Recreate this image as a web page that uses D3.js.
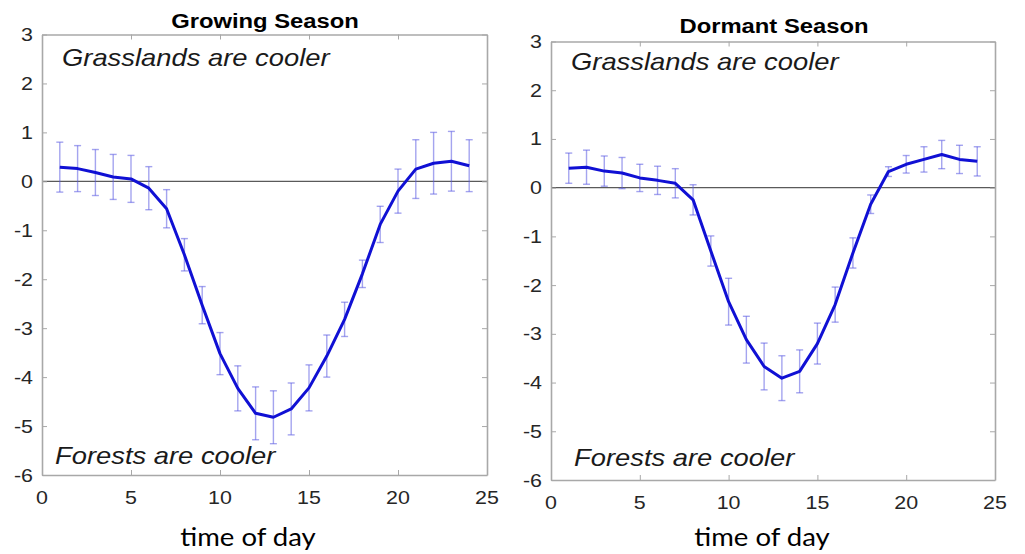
<!DOCTYPE html>
<html><head><meta charset="utf-8">
<script src="https://cdn.jsdelivr.net/npm/d3@7"></script>
<style>html,body{margin:0;padding:0;background:#fff;}svg{display:block;}</style>
</head><body>
<script>
const hours = [1,2,3,4,5,6,7,8,9,10,11,12,13,14,15,16,17,18,19,20,21,22,23,24];
const growingMean = [0.29,0.26,0.18,0.09,0.05,-0.14,-0.56,-1.50,-2.53,-3.52,-4.23,-4.74,-4.82,-4.65,-4.22,-3.57,-2.82,-1.89,-0.88,-0.20,0.25,0.37,0.41,0.32];
const growingErr = [0.51,0.47,0.47,0.46,0.48,0.44,0.39,0.33,0.38,0.43,0.46,0.54,0.54,0.53,0.47,0.43,0.35,0.28,0.37,0.45,0.60,0.63,0.61,0.53];
const dormantMean = [0.40,0.42,0.34,0.30,0.20,0.15,0.09,-0.25,-1.30,-2.34,-3.12,-3.67,-3.91,-3.77,-3.20,-2.40,-1.34,-0.34,0.33,0.48,0.58,0.68,0.58,0.54];
const dormantErr = [0.31,0.35,0.31,0.32,0.28,0.29,0.30,0.31,0.31,0.48,0.48,0.48,0.46,0.44,0.42,0.36,0.31,0.19,0.10,0.18,0.26,0.29,0.29,0.30];
const xTicks = [0,5,10,15,20,25];
const yTicks = [-6,-5,-4,-3,-2,-1,0,1,2,3];
const titles = ["Growing Season","Dormant Season"];
const topNote = "Grasslands are cooler";
const bottomNote = "Forests are cooler";
const xLabel = "time of day";

const W = 1025, H = 554;
const svg = d3.select("body").append("svg").attr("width", W).attr("height", H);
const SX = 1.19; // horizontal stretch of the source image

function stretchedText(g, x, y, txt, anchor, size, opts) {
  const t = g.append("text")
    .attr("transform", `translate(${x},${y}) scale(${opts.sx || SX},1)`)
    .attr("text-anchor", anchor)
    .attr("font-size", size)
    .attr("font-family", opts.family || "'Liberation Sans', Arial, sans-serif")
    .attr("fill", opts.fill || "#262626")
    .text(txt);
  if (opts.weight) t.attr("font-weight", opts.weight);
  if (opts.style) t.attr("font-style", opts.style);
  return t;
}

const panels = [
  {x0:42, x1:487, y0:34.5, y1:475, mean:growingMean, err:growingErr, title:titles[0],
   titleX:265, titleY:28, topX:62, topY:66, botX:55, botY:464, tickY:504, labX:248, labY:546},
  {x0:551, x1:995, y0:41.5, y1:480, mean:dormantMean, err:dormantErr, title:titles[1],
   titleX:774, titleY:33, topX:571, topY:70, botX:574, botY:466, tickY:509, labX:762, labY:546}
];

panels.forEach(p => {
  const g = svg.append("g");
  const x = d3.scaleLinear().domain([0,25]).range([p.x0, p.x1]);
  const y = d3.scaleLinear().domain([-6,3]).range([p.y1, p.y0]);

  g.append("line").attr("x1", x(0)).attr("x2", x(25)).attr("y1", y(0)).attr("y2", y(0))
    .attr("stroke", "#5a5a5a").attr("stroke-width", 1.3);

  const axCol = "#a8a8a8";
  const axB = g.append("g").attr("transform", `translate(0,${p.y1})`)
    .call(d3.axisBottom(x).tickValues(xTicks).tickSizeInner(-5).tickSizeOuter(0).tickFormat(""));
  const axT = g.append("g").attr("transform", `translate(0,${p.y0})`)
    .call(d3.axisTop(x).tickValues(xTicks).tickSizeInner(-5).tickSizeOuter(0).tickFormat(""));
  const axL = g.append("g").attr("transform", `translate(${p.x0},0)`)
    .call(d3.axisLeft(y).tickValues(yTicks).tickSizeInner(-5).tickSizeOuter(0).tickFormat(""));
  const axR = g.append("g").attr("transform", `translate(${p.x1},0)`)
    .call(d3.axisRight(y).tickValues(yTicks).tickSizeInner(-5).tickSizeOuter(0).tickFormat(""));
  [axB, axT, axL, axR].forEach(a => {
    a.select(".domain").attr("stroke", axCol).attr("stroke-width", 1.6);
    a.selectAll(".tick line").attr("stroke", axCol).attr("stroke-width", 1);
  });

  xTicks.forEach(v => stretchedText(g, x(v), p.tickY, String(v), "middle", 18, {}));
  yTicks.forEach(v => stretchedText(g, p.x0 - 9, y(v) + 6.5, String(v), "end", 18, {}));

  const ebCol = "rgba(90,90,225,0.55)";
  const cap = 3.5;
  const eb = g.append("g");
  hours.forEach((h, i) => {
    const cx = x(h), t = y(p.mean[i] + p.err[i]), b = y(p.mean[i] - p.err[i]);
    eb.append("line").attr("x1", cx).attr("x2", cx).attr("y1", t).attr("y2", b)
      .attr("stroke", ebCol).attr("stroke-width", 1.4);
    eb.append("line").attr("x1", cx - cap).attr("x2", cx + cap).attr("y1", t).attr("y2", t)
      .attr("stroke", ebCol).attr("stroke-width", 1.4);
    eb.append("line").attr("x1", cx - cap).attr("x2", cx + cap).attr("y1", b).attr("y2", b)
      .attr("stroke", ebCol).attr("stroke-width", 1.4);
  });

  const line = d3.line().x((d, i) => x(hours[i])).y(d => y(d));
  g.append("path").datum(p.mean).attr("d", line)
    .attr("fill", "none").attr("stroke", "#1010d4").attr("stroke-width", 3)
    .attr("stroke-linejoin", "round");

  stretchedText(g, p.titleX, p.titleY, p.title, "middle", 20, {weight: "bold", fill: "#000"});
  stretchedText(g, p.topX, p.topY, topNote, "start", 23, {style: "italic", fill: "#1a1a1a"});
  stretchedText(g, p.botX, p.botY, bottomNote, "start", 23, {style: "italic", fill: "#1a1a1a"});
  stretchedText(g, p.labX, p.labY, xLabel, "middle", 25,
    {family: "Lato, 'Open Sans', sans-serif", fill: "#000", sx: 1.1});
});
</script>
</body></html>
